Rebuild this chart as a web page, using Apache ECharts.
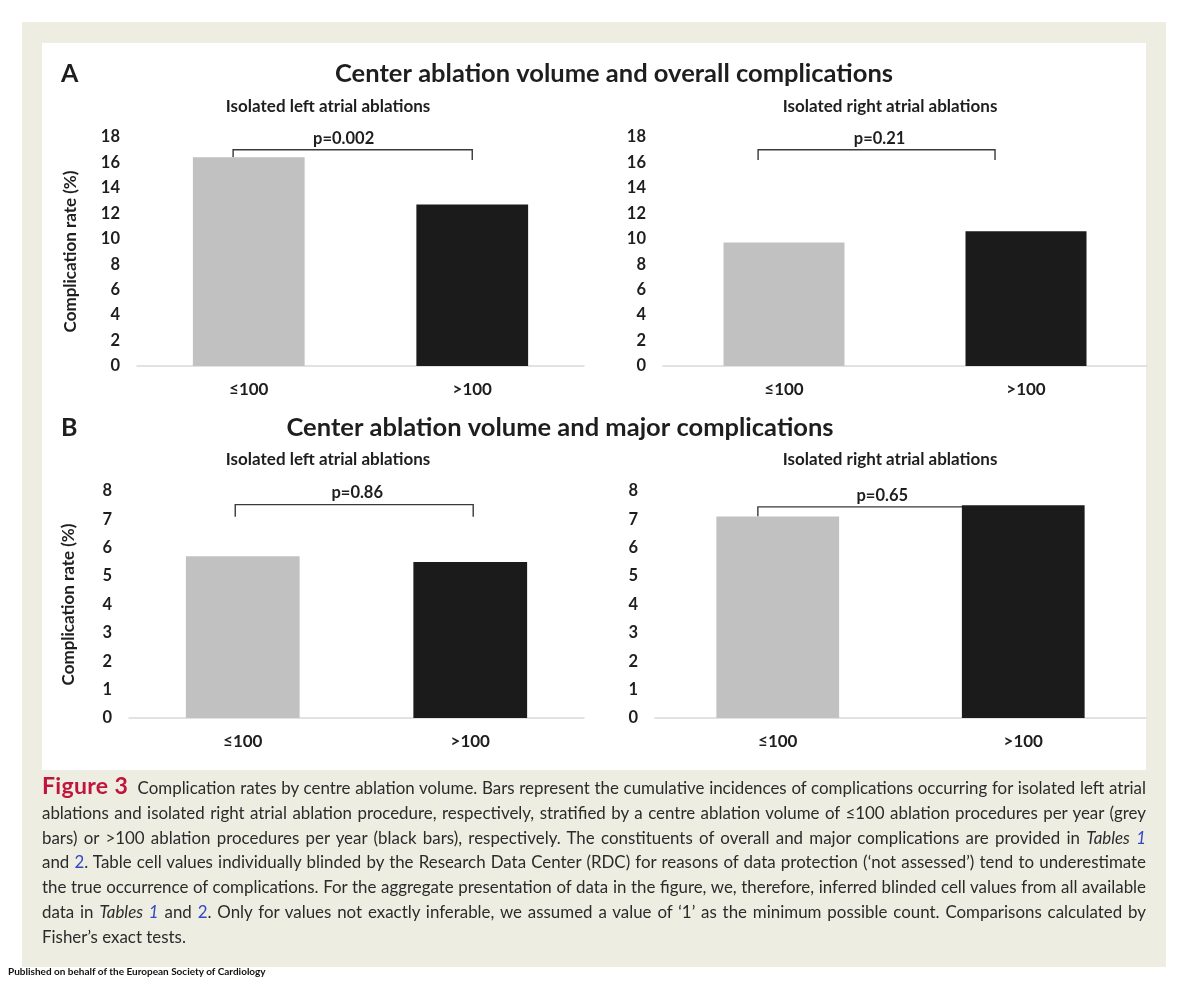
<!DOCTYPE html>
<html><head><meta charset="utf-8">
<script src="https://cdn.jsdelivr.net/npm/echarts@6/dist/echarts.min.js"></script>
<style>
html,body{margin:0;padding:0;background:#fff;width:1200px;height:987px;overflow:hidden;}
#panel{position:absolute;left:22px;top:22px;width:1144px;height:945px;background:#eeede1;}
#inner{position:absolute;left:42px;top:43px;width:1104px;height:727px;background:#fff;}
#chart{position:absolute;left:0;top:0;width:1200px;height:987px;}
#caption{position:absolute;left:42px;top:775px;width:1104px;font-family:Lato,"Noto Sans",sans-serif;font-size:16.9px;line-height:24.8px;color:#2b2b2b;}
.l{white-space:nowrap;text-align:justify;text-align-last:justify;}
.last{white-space:nowrap;text-align:left;text-align-last:left;}
.fig{color:#c0143c;font-weight:bold;font-size:23px;letter-spacing:0.3px;line-height:20px;}
.lk{color:#3346c4;}
#pub{position:absolute;left:8px;top:965px;font-family:Lato,sans-serif;font-weight:bold;font-size:10px;color:#111;}
</style></head>
<body>
<div id="panel"></div>
<div id="inner"></div>
<div id="chart"></div>
<div id="caption">
<div class="l"><span class="fig">Figure 3</span>&nbsp; Complication rates by centre ablation volume. Bars represent the cumulative incidences of complications occurring for isolated left atrial</div>
<div class="l">ablations and isolated right atrial ablation procedure, respectively, stratified by a centre ablation volume of ≤100 ablation procedures per year (grey</div>
<div class="l">bars) or &gt;100 ablation procedures per year (black bars), respectively. The constituents of overall and major complications are provided in <i>Tables</i> <i class="lk">1</i></div>
<div class="l">and <span class="lk">2</span>. Table cell values individually blinded by the Research Data Center (RDC) for reasons of data protection (‘not assessed’) tend to underestimate</div>
<div class="l">the true occurrence of complications. For the aggregate presentation of data in the figure, we, therefore, inferred blinded cell values from all available</div>
<div class="l">data in <i>Tables</i> <i class="lk">1</i> and <span class="lk">2</span>. Only for values not exactly inferable, we assumed a value of ‘1’ as the minimum possible count. Comparisons calculated by</div>
<div class="last">Fisher’s exact tests.</div>
</div>
<div id="pub">Published on behalf of the European Society of Cardiology</div>
<script>
const categories = ['≤100', '>100'];
const overallLeft = [16.4, 12.7];
const overallRight = [9.7, 10.6];
const majorLeft = [5.7, 5.5];
const majorRight = [7.1, 7.5];
const overallAxis = { max: 18, interval: 2 };
const majorAxis = { max: 8, interval: 1 };
const pValues = ['p=0.002', 'p=0.21', 'p=0.86', 'p=0.65'];
const mainTitles = ['Center ablation volume and overall complications', 'Center ablation volume and major complications'];
const subTitles = ['Isolated left atrial ablations', 'Isolated right atrial ablations'];
const yName = 'Complication rate (%)';

const FONT = 'Lato, "Noto Sans", sans-serif';
const barColors = ['#c1c1c1', '#1b1b1b'];

const panels = [
  { grid: { left: 137, top: 137, width: 447, height: 229 }, values: overallLeft, axis: overallAxis, p: pValues[0], showName: true, nameGap: 58, tOff: -9,
    br: { top: 17.0, lEnd: 16.4, rEnd: 16.2, lOff: -0.07, rOff: 0 } },
  { grid: { left: 663, top: 137, width: 484, height: 229 }, values: overallRight, axis: overallAxis, p: pValues[1], showName: false, tOff: 3,
    br: { top: 17.0, lEnd: 16.2, rEnd: 16.2, lOff: -0.107, rOff: -0.128 } },
  { grid: { left: 129, top: 491, width: 455, height: 227 }, values: majorLeft, axis: majorAxis, p: pValues[2], showName: true, nameGap: 52, tOff: 3,
    br: { top: 7.52, lEnd: 7.09, rEnd: 7.09, lOff: -0.033, rOff: 0.013 } },
  { grid: { left: 655, top: 491, width: 491, height: 227 }, values: majorRight, axis: majorAxis, p: pValues[3], showName: false, tOff: 4,
    br: { top: 7.44, lEnd: 7.1, rEnd: 7.1, lOff: -0.081, rOff: -0.1 } }
];

const grids = [], xAxes = [], yAxes = [], series = [];
panels.forEach((pn, i) => {
  grids.push(pn.grid);
  xAxes.push({
    type: 'category', gridIndex: i, data: categories,
    axisLine: { lineStyle: { color: '#d9d9d9', width: 1.5 } },
    axisTick: { show: false },
    axisLabel: { margin: 15, color: '#1e1e1e', fontFamily: FONT, fontWeight: 'bold', fontSize: 17 }
  });
  yAxes.push({
    type: 'value', gridIndex: i, min: 0, max: pn.axis.max, interval: pn.axis.interval,
    axisLine: { show: false }, axisTick: { show: false }, splitLine: { show: false },
    axisLabel: { margin: 17, color: '#1e1e1e', fontFamily: FONT, fontWeight: 'bold', fontSize: 16.5 },
    name: pn.showName ? yName : '', nameLocation: 'middle', nameGap: pn.nameGap || 0, nameRotate: 90,
    nameTextStyle: { color: '#1e1e1e', fontFamily: FONT, fontWeight: 'bold', fontSize: 17 }
  });
  series.push({
    type: 'bar', xAxisIndex: i, yAxisIndex: i, barWidth: '50%', z: 3,
    data: pn.values.map((v, k) => ({ value: v, itemStyle: { color: barColors[k] } })),
    animation: false
  });
  const b = pn.br;
  series.push({
    type: 'custom', xAxisIndex: i, yAxisIndex: i, z: 2, animation: false, silent: true,
    data: [[0, b.top, b.lEnd, b.rEnd]],
    encode: { x: 0, y: 1 },
    renderItem: function (params, api) {
      const band = api.size([1, 0])[0];
      const p0 = api.coord([0, api.value(1)]);
      const p1 = api.coord([1, api.value(1)]);
      const xL = p0[0] + b.lOff * band;
      const xR = p1[0] + b.rOff * band;
      const yT = p0[1];
      const yL = api.coord([0, api.value(2)])[1];
      const yR = api.coord([1, api.value(3)])[1];
      return {
        type: 'group',
        children: [
          { type: 'polyline', shape: { points: [[xL, yL], [xL, yT], [xR, yT], [xR, yR]] },
            style: { stroke: '#3a3a3a', lineWidth: 1.4, fill: null } },
          { type: 'text', x: (xL + xR) / 2 + pn.tOff, y: yT - 3,
            style: { text: pn.p, fill: '#1e1e1e', font: 'bold 16.5px ' + FONT, align: 'center', verticalAlign: 'bottom', textAlign: 'center', textVerticalAlign: 'bottom' } }
        ]
      };
    }
  });
});

function txt(t, x, y, size, align) {
  return { type: 'text', x: x, y: y, silent: true,
    style: { text: t, fill: '#1e1e1e', font: 'bold ' + size + 'px ' + FONT, align: align, verticalAlign: 'middle', textAlign: align, textVerticalAlign: 'middle' } };
}
const graphics = [
  txt('A', 61, 74, 25, 'left'),
  txt(mainTitles[0], 614, 74, 25.5, 'center'),
  txt(subTitles[0], 328, 107, 17, 'center'),
  txt(subTitles[1], 890, 107, 17, 'center'),
  txt('B', 61, 428, 25, 'left'),
  txt(mainTitles[1], 560, 428, 25.5, 'center'),
  txt(subTitles[0], 328, 460, 17, 'center'),
  txt(subTitles[1], 890, 460, 17, 'center')
];

const chart = echarts.init(document.getElementById('chart'), null, { renderer: 'canvas' });
chart.setOption({
  animation: false,
  backgroundColor: 'transparent',
  grid: grids, xAxis: xAxes, yAxis: yAxes, series: series,
  graphic: graphics
});
</script>
</body></html>
